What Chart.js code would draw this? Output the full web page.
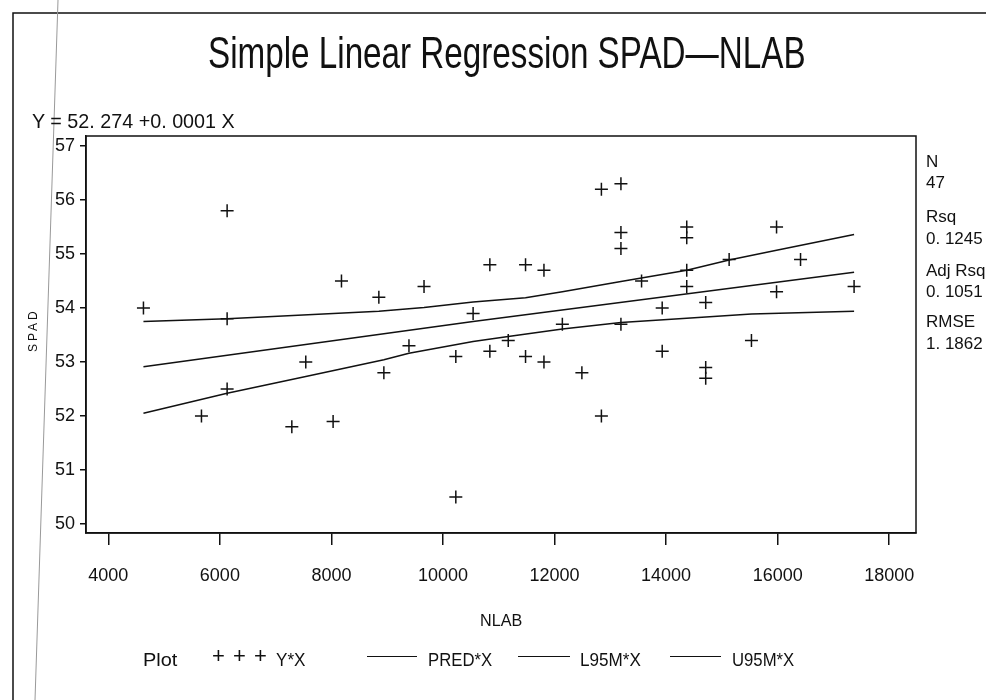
<!DOCTYPE html>
<html>
<head>
<meta charset="utf-8">
<script src="https://cdn.jsdelivr.net/npm/chart.js"></script>
<style>
  html, body { margin: 0; padding: 0; background: #fff; }
  #wrap { position: relative; width: 986px; height: 700px; overflow: hidden; font-family: "Liberation Sans", Arial, sans-serif; color: #111; }
  #chart { position: absolute; left: 0; top: 0; }
  .txt { position: absolute; white-space: nowrap; line-height: 1; transform-origin: left top; }
  .leg-line { position: absolute; height: 0; border-top: 1.5px solid #111; }
</style>
</head>
<body>
<div id="wrap">
  <canvas id="chart" width="986" height="700"></canvas>
  <div class="txt" id="title" style="left:208px; top:31px; font-size:44px; transform:scaleX(0.755);">Simple Linear Regression SPAD—NLAB</div>
  <div class="txt" style="left:32px; top:110px; font-size:21px; transform:scaleX(0.94);">Y = 52. 274 +0. 0001 X</div>
  <div class="txt" style="left:27px; top:352px; font-size:12px; letter-spacing:3px; transform:rotate(-90deg);">SPAD</div>
  <div class="txt" style="left:480px; top:612px; font-size:17px; transform:scaleX(0.95);">NLAB</div>
  <div class="txt" style="left:143px; top:650px; font-size:19px; transform:scaleX(1.05);">Plot</div>
  <div class="txt" style="left:212px; top:645px; font-size:22px; letter-spacing:1px;">+ + +</div>
  <div class="txt" style="left:276px; top:650px; font-size:19px; transform:scaleX(0.9);">Y*X</div>
  <div class="leg-line" style="left:367px; top:656px; width:50px;"></div>
  <div class="txt" style="left:428px; top:650px; font-size:19px; transform:scaleX(0.88);">PRED*X</div>
  <div class="leg-line" style="left:518px; top:656px; width:52px;"></div>
  <div class="txt" style="left:580px; top:650px; font-size:19px; transform:scaleX(0.9);">L95M*X</div>
  <div class="leg-line" style="left:670px; top:656px; width:51px;"></div>
  <div class="txt" style="left:732px; top:650px; font-size:19px; transform:scaleX(0.88);">U95M*X</div>
</div>
<script>
// --- Data ---
const nlab = [4630, 5670, 6130, 6130, 6130, 7290, 7540, 8030, 8180, 8850, 8940, 9390, 9660,
	10230, 10230, 10540, 10840, 10840, 11170, 11480, 11480, 11810, 11810, 12140, 12490,
	12840, 12840, 13190, 13190, 13190, 13190, 13560, 13930, 13930, 14370, 14370, 14370, 14370,
	14710, 14710, 14710, 15130, 15530, 15980, 15980, 16410, 17370];
const spad = [54.0, 52.0, 55.8, 53.8, 52.5, 51.8, 53.0, 51.9, 54.5, 54.2, 52.8, 53.3, 54.4,
	53.1, 50.5, 53.9, 54.8, 53.2, 53.4, 54.8, 53.1, 54.7, 53.0, 53.7, 52.8,
	56.2, 52.0, 56.3, 55.4, 55.1, 53.7, 54.5, 54.0, 53.2, 55.5, 55.3, 54.7, 54.4,
	54.1, 52.9, 52.7, 54.9, 53.4, 55.5, 54.3, 54.9, 54.4];

const predX = [4630, 10540, 17370];
const predY = [52.91, 53.75, 54.66];
const l95X = [4630, 6130, 7540, 8940, 9390, 10540, 11170, 12140, 13190, 14370, 15530, 17370];
const l95Y = [52.05, 52.42, 52.73, 53.04, 53.16, 53.38, 53.47, 53.61, 53.73, 53.81, 53.89, 53.94];
const u95X = [4630, 6130, 8850, 9660, 10540, 11480, 12140, 13190, 14370, 15130, 15980, 17370];
const u95Y = [53.75, 53.80, 53.94, 54.01, 54.11, 54.19, 54.30, 54.49, 54.70, 54.89, 55.07, 55.36];

const xTicks = [4000, 6000, 8000, 10000, 12000, 14000, 16000, 18000];
const yTicks = [50, 51, 52, 53, 54, 55, 56, 57];

const statLabels = ["N", "47", "Rsq", "0. 1245", "Adj Rsq", "0. 1051", "RMSE", "1. 1862"];
const statBaselines = [167, 188, 222, 244, 276, 297, 327, 349];

// --- Helpers ---
const toPoints = (xs, ys) => xs.map((x, i) => ({ x: x, y: ys[i] }));

function lineSet(label, xs, ys) {
	return {
		label: label,
		data: toPoints(xs, ys),
		showLine: true,
		borderColor: "#111",
		borderWidth: 1.5,
		pointRadius: 0,
		tension: 0,
		fill: false,
	};
}

// stats block on the right
statLabels.forEach((s, i) => {
	const d = document.createElement("div");
	d.className = "txt";
	d.style.fontSize = "17px";
	d.style.left = "926px";
	d.style.top = statBaselines[i] - 14.4 + "px";
	d.textContent = s;
	document.getElementById("wrap").appendChild(d);
});

// frame around the plot area, plus the page border from the scan
const framePlugin = {
	id: "frame",
	afterDraw(chart) {
		const { ctx, chartArea: a } = chart;
		ctx.save();
		ctx.strokeStyle = "#111";
		ctx.lineWidth = 1.5;
		ctx.strokeRect(a.left, a.top, a.right - a.left, a.bottom - a.top);
		ctx.beginPath();
		ctx.moveTo(13, 700);
		ctx.lineTo(13, 13);
		ctx.lineTo(986, 13);
		ctx.stroke();
		ctx.strokeStyle = "#999";
		ctx.lineWidth = 1;
		ctx.beginPath();
		ctx.moveTo(58, 0);
		ctx.lineTo(35, 700);
		ctx.stroke();
		ctx.restore();
	},
};

Chart.defaults.font.family = '"Liberation Sans", Arial, sans-serif';
Chart.defaults.color = "#111";

new Chart(document.getElementById("chart"), {
	type: "scatter",
	data: {
		datasets: [
			{
				label: "Y*X",
				data: toPoints(nlab, spad),
				pointStyle: "cross",
				pointRadius: 6.5,
				pointBorderWidth: 1.5,
				borderColor: "#111",
				backgroundColor: "#111",
			},
			lineSet("PRED*X", predX, predY),
			lineSet("L95M*X", l95X, l95Y),
			lineSet("U95M*X", u95X, u95Y),
		],
	},
	options: {
		responsive: false,
		animation: false,
		devicePixelRatio: 1,
		layout: { padding: { top: 136, right: 70, left: 0, bottom: 0 } },
		plugins: {
			legend: { display: false },
			tooltip: { enabled: false },
		},
		scales: {
			x: {
				type: "linear",
				min: 3600,
				max: 18480,
				afterBuildTicks: (scale) => {
					scale.ticks = xTicks.map((v) => ({ value: v }));
				},
				afterFit: (scale) => {
					scale.height = 167;
				},
				ticks: { font: { size: 18 }, padding: 20, maxRotation: 0, callback: (v) => String(v) },
				grid: { drawOnChartArea: false, tickLength: 12, color: "#111", lineWidth: 1.5 },
				border: { display: true, color: "#111", width: 1.5 },
			},
			y: {
				type: "linear",
				min: 49.833,
				max: 57.185,
				afterBuildTicks: (scale) => {
					scale.ticks = yTicks.map((v) => ({ value: v }));
				},
				afterFit: (scale) => {
					scale.width = 86;
				},
				ticks: { font: { size: 18 }, padding: 5, callback: (v) => String(v) },
				grid: { drawOnChartArea: false, tickLength: 6, color: "#111", lineWidth: 1.5 },
				border: { display: true, color: "#111", width: 1.5 },
			},
		},
	},
	plugins: [framePlugin],
});
</script>
</body>
</html>
